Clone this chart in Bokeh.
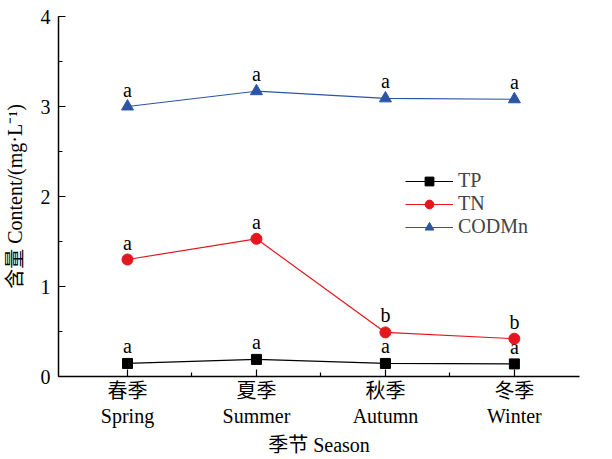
from bokeh.plotting import figure
from bokeh.models import FixedTicker, SingleIntervalTicker, Range1d, Legend, LegendItem, ColumnDataSource
from bokeh.core.properties import value
from bokeh.embed import file_html
from bokeh.resources import INLINE

seasons = ["春季\nSpring", "夏季\nSummer", "秋季\nAutumn", "冬季\nWinter"]
xpos = [1, 2, 3, 4]
tp = [0.145, 0.19, 0.145, 0.14]
tn = [1.30, 1.53, 0.49, 0.42]
cod = [3.00, 3.17, 3.09, 3.08]
tp_sig = ["a", "a", "a", "a"]
tn_sig = ["a", "a", "b", "b"]
cod_sig = ["a", "a", "a", "a"]

FONT = "'Liberation Serif', 'Noto Sans CJK SC', serif"

p = figure(frame_width=521, frame_height=360, output_backend="svg", toolbar_location=None,
           x_range=Range1d(0.465, 4.505), y_range=Range1d(0, 4),
           min_border_left=57, min_border_top=16, min_border_right=10, min_border_bottom=0)
p.outline_line_color = None
p.grid.visible = False
p.background_fill_color = "white"

xt = FixedTicker(ticks=xpos, minor_ticks=[1.5, 2.5, 3.5])
p.xaxis.ticker = xt
p.xaxis.major_label_overrides = {x: s for x, s in zip(xpos, seasons)}
p.yaxis.ticker = SingleIntervalTicker(interval=1, num_minor_ticks=2)

for ax in (p.xaxis, p.yaxis):
    ax.axis_line_width = 1.5
    ax.axis_line_color = "black"
    ax.major_tick_in = 7
    ax.major_tick_out = 0
    ax.minor_tick_in = 4
    ax.minor_tick_out = 0
    ax.major_tick_line_width = 1.2
    ax.minor_tick_line_width = 1.2
    ax.major_label_text_font = FONT
    ax.major_label_text_font_size = "20px"
    ax.major_label_text_color = "black"
    ax.axis_label_text_font = FONT
    ax.axis_label_text_font_size = "20px"
    ax.axis_label_text_font_style = "normal"
    ax.axis_label_text_color = "black"

p.xaxis.major_label_text_line_height = 1.15
p.xaxis.axis_label = "季节 Season"
p.yaxis.axis_label = "含量 Content/(mg·L⁻¹)"
p.xaxis.major_label_standoff = 3
p.xaxis.axis_label_standoff = 4
p.yaxis.major_label_standoff = 8
p.yaxis.axis_label_standoff = 12

series = [
    ("TP", tp, tp_sig, "black", "square", 10),
    ("TN", tn, tn_sig, "#e3171d", "circle", 11),
    ("CODMn", cod, cod_sig, "#2c55a4", "triangle", 12),
]
items = []
for name, ys, sig, col, mk, sz in series:
    src = ColumnDataSource(dict(x=xpos, y=ys, s=sig))
    l = p.line("x", "y", source=src, line_color=col, line_width=1.2)
    m = p.scatter("x", "y", source=src, marker=mk, size=sz, fill_color=col, line_color=col)
    p.text("x", "y", text="s", source=src, text_font=value(FONT), text_font_size="20px",
           text_align="center", text_baseline="bottom", y_offset=-6, text_color="black")
    items.append(LegendItem(label=name, renderers=[l, m]))

legend = Legend(items=items, location=(347, 138), border_line_color=None,
                background_fill_alpha=0, padding=0, margin=0, spacing=0,
                label_text_font=FONT, label_text_font_size="20px",
                glyph_width=48, glyph_height=22, label_height=22, label_standoff=5)
p.add_layout(legend)

open("out.html", "w").write(file_html(p, INLINE))
